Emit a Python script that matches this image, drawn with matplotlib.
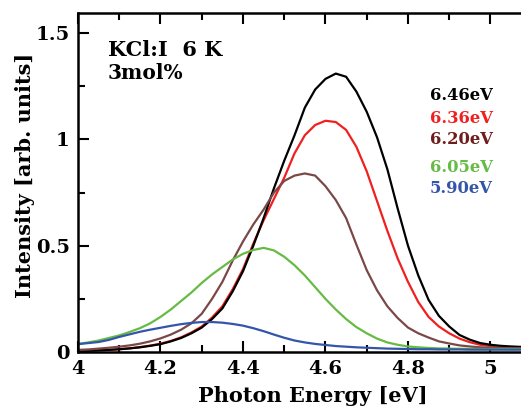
import numpy as np
import matplotlib.pyplot as plt
from matplotlib.ticker import MultipleLocator

# photon energy grid [eV]
energy = [4.000, 4.025, 4.050, 4.075, 4.100, 4.125, 4.150, 4.175, 4.200, 4.225,
          4.250, 4.275, 4.300, 4.325, 4.350, 4.375, 4.400, 4.425, 4.450, 4.475,
          4.500, 4.525, 4.550, 4.575, 4.600, 4.625, 4.650, 4.675, 4.700, 4.725,
          4.750, 4.775, 4.800, 4.825, 4.850, 4.875, 4.900, 4.925, 4.950, 4.975,
          5.000, 5.025, 5.050, 5.075]

# emission spectra for each excitation energy
i_646 = [0.005, 0.006, 0.008, 0.010, 0.013, 0.017, 0.022, 0.029, 0.037, 0.050,
         0.066, 0.088, 0.115, 0.155, 0.205, 0.285, 0.380, 0.500, 0.630, 0.770,
         0.900, 1.020, 1.150, 1.235, 1.285, 1.310, 1.295, 1.225, 1.130, 1.010,
         0.860, 0.675, 0.500, 0.360, 0.245, 0.170, 0.120, 0.080, 0.058, 0.042,
         0.034, 0.029, 0.026, 0.024]
i_636 = [0.005, 0.006, 0.008, 0.010, 0.013, 0.017, 0.023, 0.030, 0.039, 0.052,
         0.069, 0.092, 0.120, 0.162, 0.215, 0.295, 0.390, 0.510, 0.620, 0.720,
         0.820, 0.935, 1.020, 1.068, 1.088, 1.082, 1.045, 0.965, 0.850, 0.710,
         0.570, 0.440, 0.330, 0.235, 0.165, 0.120, 0.088, 0.063, 0.046, 0.034,
         0.028, 0.024, 0.022, 0.021]
i_620 = [0.010, 0.012, 0.016, 0.020, 0.025, 0.031, 0.039, 0.050, 0.064, 0.082,
         0.105, 0.135, 0.180, 0.250, 0.330, 0.430, 0.520, 0.600, 0.670, 0.750,
         0.805, 0.830, 0.840, 0.830, 0.780, 0.715, 0.630, 0.505, 0.385, 0.290,
         0.215, 0.160, 0.115, 0.088, 0.068, 0.050, 0.040, 0.031, 0.026, 0.022,
         0.020, 0.019, 0.018, 0.018]
i_605 = [0.038, 0.045, 0.054, 0.066, 0.078, 0.094, 0.112, 0.135, 0.165, 0.200,
         0.240, 0.280, 0.325, 0.365, 0.400, 0.435, 0.462, 0.480, 0.490, 0.478,
         0.448, 0.408, 0.360, 0.305, 0.250, 0.200, 0.155, 0.117, 0.088, 0.063,
         0.045, 0.034, 0.026, 0.022, 0.019, 0.017, 0.016, 0.015, 0.015, 0.014,
         0.014, 0.014, 0.013, 0.013]
i_590 = [0.037, 0.042, 0.047, 0.057, 0.071, 0.083, 0.095, 0.105, 0.114, 0.123,
         0.131, 0.137, 0.141, 0.141, 0.138, 0.132, 0.124, 0.112, 0.098, 0.082,
         0.067, 0.054, 0.045, 0.038, 0.033, 0.028, 0.025, 0.022, 0.020, 0.018,
         0.016, 0.015, 0.014, 0.013, 0.013, 0.012, 0.012, 0.012, 0.011, 0.011,
         0.011, 0.011, 0.011, 0.011]

labels = ['6.46eV', '6.36eV', '6.20eV', '6.05eV', '5.90eV']
line_colors = ['#000000', '#f02020', '#7b4848', '#66bb44', '#3355aa']
text_colors = ['#000000', '#f02020', '#6e1c1c', '#66bb44', '#3355aa']

xticks = [4.0, 4.2, 4.4, 4.6, 4.8, 5.0]
xticklabels = ['4', '4.2', '4.4', '4.6', '4.8', '5']
yticks = [0, 0.5, 1.0, 1.5]
yticklabels = ['0', '0.5', '1', '1.5']

plt.rcParams['font.family'] = ['DejaVu Serif']
plt.rcParams['font.weight'] = 'bold'

fig = plt.figure(figsize=(5.21, 4.07), dpi=100)
ax = fig.add_axes([78/521, 55/407, 1 - 78/521, 339/407])

series = [i_646, i_636, i_620, i_605, i_590]
order = [1, 0, 2, 3, 4]
for k in order:
    ax.plot(energy, series[k], color=line_colors[k], lw=1.6)

ax.set_xlim(4.0, 5.074)
ax.set_ylim(0, 1.595)

ax.set_xticks(xticks)
ax.set_xticklabels(xticklabels)
ax.set_yticks(yticks)
ax.set_yticklabels(yticklabels)
ax.xaxis.set_minor_locator(MultipleLocator(0.1))
ax.yaxis.set_minor_locator(MultipleLocator(0.25))
ax.tick_params(which='both', direction='in', top=True, right=False, width=1.5,
               labelsize=14, pad=6)
ax.tick_params(which='major', length=8)
ax.tick_params(which='minor', length=5)
for s in ['left', 'bottom', 'top']:
    ax.spines[s].set_linewidth(1.8)
ax.spines['right'].set_visible(False)

ax.set_xlabel('Photon Energy [eV]', fontsize=15, fontweight='bold')
ax.xaxis.set_label_coords(0.53, -0.1)
ax.set_ylabel('Intensity [arb. units]', fontsize=15, fontweight='bold')
ax.yaxis.set_label_coords(-0.097, 0.52)

# header text, pixel positions measured from the top-left corner
fig.text(108 / 521, 1 - 50 / 407, 'KCl:I  6 K', fontsize=15, fontweight='bold',
         va='center', ha='left')
fig.text(108 / 521, 1 - 73 / 407, '3mol%', fontsize=14.5, fontweight='bold',
         va='center', ha='left')

label_y = [96, 119, 140, 167, 188]
for lab, c, yy in zip(labels, text_colors, label_y):
    fig.text(430 / 521, 1 - yy / 407, lab, fontsize=11.8, fontweight='bold',
             color=c, va='center', ha='left')

fig.savefig('out.png', dpi=100)
